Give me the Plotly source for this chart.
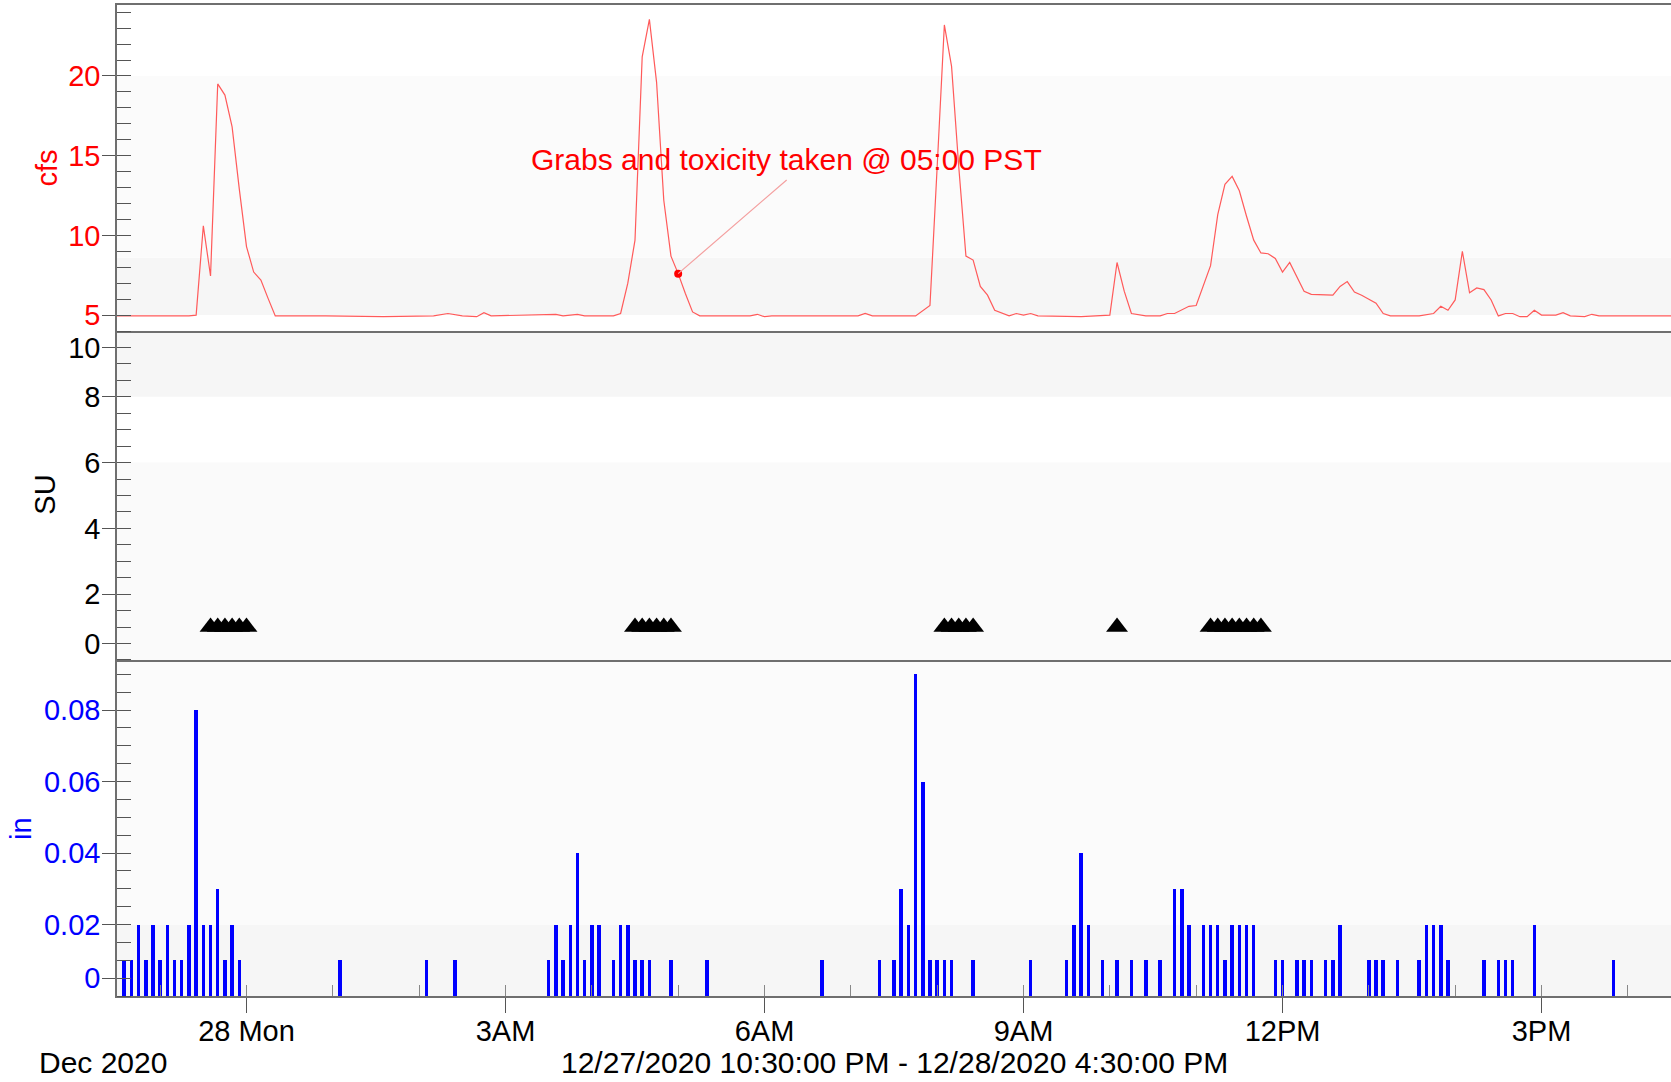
import plotly.graph_objects as go

# ---------------- data ----------------
# Flow (cfs)
flow_times = [
    "22:30", "23:20", "23:25", "23:30", "23:35", "23:40", "23:45", "23:50", "23:55",
    "00:00", "00:05", "00:10", "00:15", "00:20", "00:55", "01:35", "02:10", "02:20",
    "02:30", "02:40", "02:45", "02:50", "03:35", "03:40", "03:50", "03:55", "04:15",
    "04:20", "04:25", "04:30", "04:35", "04:40", "04:45", "04:50", "04:55", "05:00",
    "05:05", "05:10", "05:15", "05:50", "05:55", "06:00", "06:05", "07:05", "07:10",
    "07:15", "07:45", "07:55", "08:00", "08:05", "08:10", "08:15", "08:20", "08:25",
    "08:30", "08:35", "08:40", "08:45", "08:50", "08:55", "09:00", "09:05", "09:10",
    "09:40", "10:00", "10:05", "10:10", "10:15", "10:25", "10:35", "10:40", "10:45",
    "10:55", "11:00", "11:10", "11:15", "11:20", "11:25", "11:30", "11:35", "11:40",
    "11:45", "11:50", "11:55", "12:00", "12:05", "12:10", "12:15", "12:20", "12:35",
    "12:40", "12:45", "12:50", "12:55", "13:05", "13:10", "13:15", "13:35", "13:45",
    "13:50", "13:55", "14:00", "14:05", "14:10", "14:15", "14:20", "14:25", "14:30",
    "14:35", "14:40", "14:45", "14:50", "14:55", "15:00", "15:10", "15:15", "15:20",
    "15:30", "15:35", "15:40", "16:30",
]
flow_cfs = [
    4.95, 4.95, 5.0, 10.6, 7.45, 19.5, 18.8, 16.8, 12.9,
    9.3, 7.7, 7.2, 6.05, 4.95, 4.95, 4.9, 4.95, 5.1,
    4.95, 4.9, 5.15, 4.95, 5.05, 4.95, 5.05, 4.95, 4.95,
    5.1, 7.0, 9.7, 21.2, 23.55, 19.6, 12.2, 8.7, 7.6,
    6.35, 5.2, 4.95, 4.95, 5.05, 4.9, 4.95, 4.95, 5.1,
    4.95, 4.95, 5.6, 14.3, 23.2, 20.6, 14.3, 8.7, 8.45,
    6.8, 6.25, 5.3, 5.1, 4.95, 5.1, 5.0, 5.1, 4.95,
    4.9, 5.0, 8.3, 6.5, 5.1, 4.95, 4.95, 5.1, 5.1,
    5.55, 5.6, 8.1, 11.3, 13.2, 13.7, 12.8, 11.2, 9.7,
    8.9, 8.85, 8.55, 7.7, 8.3, 7.4, 6.5, 6.3, 6.25,
    6.8, 7.1, 6.45, 6.25, 5.75, 5.1, 4.95, 4.95, 5.1,
    5.55, 5.3, 5.95, 9.0, 6.4, 6.7, 6.6, 5.95, 4.95,
    5.1, 5.1, 4.9, 4.9, 5.3, 5.0, 5.0, 5.15, 4.95,
    4.9, 5.05, 4.95, 4.95,
]

# Sample point marked on the flow trace
grab_time = "05:00"
grab_cfs = 7.6
grab_label = "Grabs and toxicity taken @ 05:00 PST"

# SU (middle panel, triangles)
su_times = [
    "23:35", "23:40", "23:45", "23:50", "23:55", "00:00",
    "04:30", "04:35", "04:40", "04:45", "04:50", "04:55",
    "08:05", "08:10", "08:15", "08:20", "08:25",
    "10:05",
    "11:10", "11:15", "11:20", "11:25", "11:30", "11:35", "11:40", "11:45",
]
su_values = [1.0] * 6 + [1.0] * 6 + [1.0] * 5 + [1.0] + [1.0] * 8

# Rainfall (in), 5-minute totals
rain_times = [
    "22:35", "22:40", "22:45", "22:50", "22:55", "23:00", "23:05", "23:10", "23:15",
    "23:20", "23:25", "23:30", "23:35", "23:40", "23:45", "23:50", "23:55",
    "01:05", "02:05", "02:25",
    "03:30", "03:35", "03:40", "03:45", "03:50", "03:55", "04:00", "04:05",
    "04:15", "04:20", "04:25", "04:30", "04:35", "04:40", "04:55", "05:20",
    "06:40", "07:20", "07:30", "07:35", "07:40", "07:45", "07:50", "07:55",
    "08:00", "08:05", "08:10", "08:25", "09:05",
    "09:30", "09:35", "09:40", "09:45", "09:55", "10:05", "10:15", "10:25", "10:35",
    "10:45", "10:50", "10:55", "11:05", "11:10", "11:15", "11:20", "11:25", "11:30",
    "11:35", "11:40", "11:55", "12:00", "12:10", "12:15", "12:20", "12:30", "12:35",
    "12:40", "13:00", "13:05", "13:10", "13:20", "13:35", "13:40", "13:45", "13:50",
    "13:55", "14:20", "14:30", "14:35", "14:40", "14:55", "15:50",
]
rain_in = [
    0.01, 0.01, 0.02, 0.01, 0.02, 0.01, 0.02, 0.01, 0.01,
    0.02, 0.08, 0.02, 0.02, 0.03, 0.01, 0.02, 0.01,
    0.01, 0.01, 0.01,
    0.01, 0.02, 0.01, 0.02, 0.04, 0.01, 0.02, 0.02,
    0.01, 0.02, 0.02, 0.01, 0.01, 0.01, 0.01, 0.01,
    0.01, 0.01, 0.01, 0.03, 0.02, 0.09, 0.06, 0.01,
    0.01, 0.01, 0.01, 0.01, 0.01,
    0.01, 0.02, 0.04, 0.02, 0.01, 0.01, 0.01, 0.01, 0.01,
    0.03, 0.03, 0.02, 0.02, 0.02, 0.02, 0.01, 0.02, 0.02,
    0.02, 0.02, 0.01, 0.01, 0.01, 0.01, 0.01, 0.01, 0.01,
    0.02, 0.01, 0.01, 0.01, 0.01, 0.01, 0.02, 0.02, 0.02,
    0.01, 0.01, 0.01, 0.01, 0.01, 0.02, 0.01,
]

x_start, x_end = "2020-12-27 22:30", "2020-12-28 16:30"
x_tick_times = ["00:00", "03:00", "06:00", "09:00", "12:00", "15:00"]
x_tick_labels = ["28 Mon", "3AM", "6AM", "9AM", "12PM", "3PM"]
range_label = "12/27/2020 10:30:00 PM - 12/28/2020 4:30:00 PM"
month_label = "Dec 2020"

cfs_ticks = [5, 10, 15, 20]
su_tick_pos = [0.5, 2, 4, 6, 8, 9.5]
su_tick_text = ["0", "2", "4", "6", "8", "10"]
in_tick_pos = [0.005, 0.02, 0.04, 0.06, 0.08]
in_tick_text = ["0", "0.02", "0.04", "0.06", "0.08"]


def ts(hm):
    """Clock time -> timestamp inside the 12/27 22:30 - 12/28 16:30 window."""
    h = int(hm[:2])
    day = 27 if h >= 22 else 28
    return f"2020-12-{day} {hm}"


# ---------------- figure ----------------
FONT = "Liberation Sans, Arial, sans-serif"
FS = 29
FS_BIG = 30
AXCOL = "#6f6f6f"
TICKCOL = "#555555"

fig = go.Figure()
fig.add_trace(go.Scatter(
    x=[ts(t) for t in flow_times], y=flow_cfs, mode="lines",
    line=dict(color="#ff5a5a", width=1.2), xaxis="x", yaxis="y",
    showlegend=False, hoverinfo="x+y"))
fig.add_trace(go.Scatter(
    x=[ts(grab_time)], y=[grab_cfs], mode="markers",
    marker=dict(color="#ff0000", size=8), xaxis="x", yaxis="y",
    showlegend=False))
fig.add_trace(go.Scatter(
    x=[ts(t) for t in su_times], y=su_values, mode="markers",
    marker=dict(symbol="triangle-up", size=19, color="black", line=dict(width=0)),
    xaxis="x2", yaxis="y2", showlegend=False))
fig.add_trace(go.Bar(
    x=[ts(t) for t in rain_times], y=rain_in, width=145000,
    marker=dict(color="#0000ff", line=dict(width=0)),
    xaxis="x3", yaxis="y3", showlegend=False))

d_top = [0.6710, 1.0]
d_mid = [0.3391, 0.6710]
d_bot = [0.0, 0.3391]

common_x = dict(range=[x_start, x_end], type="date", showgrid=False, zeroline=False,
                showline=True, linecolor=AXCOL, linewidth=1.5)


def yax(domain, rng, tickvals, ticktext, color, minor_dtick):
    return dict(
        domain=domain, range=rng, tickmode="array", tickvals=tickvals,
        ticktext=ticktext, ticks="outside", ticklen=13, tickwidth=1,
        tickcolor=TICKCOL, tickfont=dict(family=FONT, size=FS, color=color),
        minor=dict(tickmode="linear", tick0=0, dtick=minor_dtick, ticks="inside",
                   ticklen=14, tickwidth=1, tickcolor=TICKCOL, showgrid=False),
        showline=True, linecolor=AXCOL, linewidth=1.5, showgrid=False,
        zeroline=False, ticklabelstandoff=-4,
    )


fig.update_layout(
    width=1671, height=1082,
    margin=dict(l=117, r=0, t=5, b=86),
    paper_bgcolor="white", plot_bgcolor="white",
    font=dict(family=FONT, size=FS, color="black"),
    showlegend=False,
    xaxis=dict(common_x, domain=[0, 1], anchor="y", matches="x3",
               showticklabels=False, ticks="", mirror=True),
    xaxis2=dict(common_x, domain=[0, 1], anchor="y2", matches="x3",
                showticklabels=False, ticks=""),
    xaxis3=dict(common_x, domain=[0, 1], anchor="y3",
                tickmode="array", tickvals=[ts(t) for t in x_tick_times],
                ticktext=x_tick_labels, ticks="outside", ticklen=15, tickwidth=1,
                tickcolor=TICKCOL, tickfont=dict(family=FONT, size=FS, color="black"),
                ticklabelstandoff=-7,
                minor=dict(tickmode="linear", tick0="2020-12-27 23:00",
                           dtick=3600000, ticks="inside", ticklen=11,
                           tickwidth=1, tickcolor="#888888", showgrid=False)),
    yaxis=dict(yax(d_top, [4.0, 24.45], cfs_ticks, [str(v) for v in cfs_ticks],
                   "#ff0000", 1), anchor="x"),
    yaxis2=dict(yax(d_mid, [0, 10], su_tick_pos, su_tick_text, "black", 0.5),
                anchor="x2"),
    yaxis3=dict(yax(d_bot, [0, 0.094], in_tick_pos, in_tick_text, "#0000ff",
                    0.005), anchor="x3"),
    bargap=0,
)

# faint background bands as in the original plot
bands = [
    ("y", 5, 8.6, "#f6f6f6"), ("y", 8.6, 20, "#fbfbfb"),
    ("y2", 8, 10, "#f6f6f6"), ("y2", 0, 6, "#fafafa"),
    ("y3", 0, 0.02, "#f6f6f6"), ("y3", 0.02, 0.094, "#fbfbfb"),
]
for yref, y0, y1, col in bands:
    xref = {"y": "x", "y2": "x2", "y3": "x3"}[yref] + " domain"
    fig.add_shape(type="rect", xref=xref, yref=yref, x0=0, x1=1, y0=y0, y1=y1,
                  fillcolor=col, line=dict(width=0), layer="below")

# axis titles (rotated), placed like the original
for text, x, y, col in [("cfs", -0.0453, 0.8355, "#ff0000"),
                        ("SU", -0.0466, 0.5055, "black"),
                        ("in", -0.0618, 0.1695, "#0000ff")]:
    fig.add_annotation(x=x, y=y, xref="paper", yref="paper", text=text,
                       textangle=-90, showarrow=False, xanchor="center",
                       yanchor="middle", font=dict(family=FONT, size=FS, color=col))

# annotation: leader line + text
fig.add_annotation(x=ts(grab_time), y=grab_cfs, xref="x", yref="y", text="",
                   showarrow=True, arrowhead=0, arrowwidth=1.2,
                   arrowcolor="#f4a0a0", ax=110, ay=-95, standoff=0)
fig.add_annotation(x=0.4311, y=0.8436, xref="paper", yref="paper",
                   text=grab_label, showarrow=False, xanchor="center",
                   yanchor="middle", font=dict(family=FONT, size=FS_BIG, color="#ff0000"))
fig.add_annotation(x=-0.0515, y=-0.0676, xref="paper", yref="paper",
                   text=month_label, showarrow=False, xanchor="left",
                   yanchor="middle", font=dict(family=FONT, size=FS_BIG, color="black"))
fig.add_annotation(x=0.5006, y=-0.0676, xref="paper", yref="paper",
                   text=range_label, showarrow=False, xanchor="center",
                   yanchor="middle", font=dict(family=FONT, size=FS_BIG, color="black"))

fig.write_html("out.html", config={"displayModeBar": False},
               post_script="document.body.style.margin='0';")
